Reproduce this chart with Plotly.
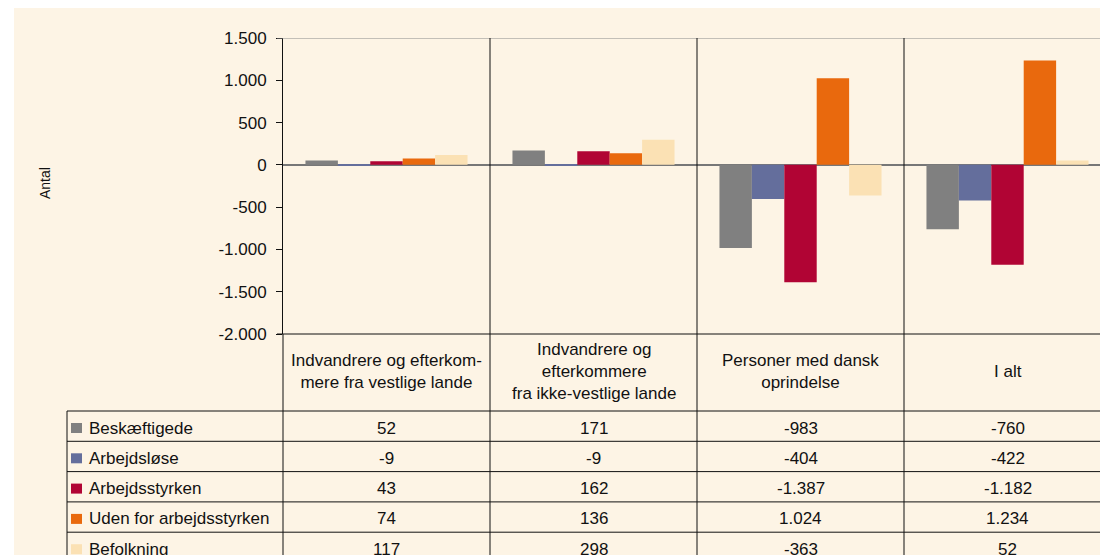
import plotly.graph_objects as go

# ------------------- Data -------------------
categories = [
    "Indvandrere og efterkom-<br>mere fra vestlige lande",
    "Indvandrere og<br>efterkommere<br>fra ikke-vestlige lande",
    "Personer med dansk<br>oprindelse",
    "I alt",
]
series_names = ["Beskæftigede", "Arbejdsløse", "Arbejdsstyrken",
                "Uden for arbejdsstyrken", "Befolkning"]
beskaeftigede = [52, 171, -983, -760]
arbejdsloese = [-9, -9, -404, -422]
arbejdsstyrken = [43, 162, -1387, -1182]
uden_for = [74, 136, 1024, 1234]
befolkning = [117, 298, -363, 52]
series_values = [beskaeftigede, arbejdsloese, arbejdsstyrken, uden_for, befolkning]
y_ticks = [1500, 1000, 500, 0, -500, -1000, -1500, -2000]

colors = ["#808080", "#646E9C", "#B10434", "#E9690D", "#FBE1B4"]
bg = "#FDF4E5"
ink = "#111111"
FONT = "Liberation Sans, Arial, sans-serif"
FS = 17

# geometry in screenshot pixels; the page body adds an 8px margin
OFF = 8
SW, SH = 1108, 555
L, T, B = 283, 38, 334
W, H = SW - OFF, SH - OFF


def fmt(v):
    return f"{v:,}".replace(",", ".")


def px_x(p):
    return (p - L) / (SW - L)


def px_y(p):
    return (B - p) / (B - T)


x_idx = list(range(len(categories)))

fig = go.Figure()
for name, vals, col in zip(series_names, series_values, colors):
    fig.add_trace(go.Bar(x=x_idx, y=vals, name=name, marker_color=col,
                         marker_line_width=0, showlegend=False))

shapes = []
# white strip left of the cream page
shapes.append(dict(type="rect", xref="paper", yref="paper", x0=px_x(0), x1=px_x(14),
                   y0=px_y(SH + 20), y1=px_y(0), fillcolor="white", line_width=0, layer="below"))
# top gridline
shapes.append(dict(type="line", xref="paper", yref="y", x0=px_x(277), x1=1, y0=1500, y1=1500,
                   line=dict(color="#8a8a8a", width=1)))
# column separators through plot and table
for i in range(len(categories)):
    shapes.append(dict(type="line", xref="x", yref="paper", x0=i + 0.5, x1=i + 0.5,
                       y0=px_y(SH + 10), y1=1, line=dict(color=ink, width=1)))
shapes.append(dict(type="line", xref="paper", yref="paper", x0=0, x1=0,
                   y0=px_y(SH + 10), y1=0, line=dict(color=ink, width=1)))
# table lines
shapes.append(dict(type="line", xref="paper", yref="paper", x0=px_x(277), x1=1, y0=0, y1=0,
                   line=dict(color=ink, width=1)))
row_tops = [411, 441.3, 471.6, 501.9, 532.2]
for r in row_tops:
    shapes.append(dict(type="line", xref="paper", yref="paper", x0=px_x(67), x1=1,
                       y0=px_y(r), y1=px_y(r), line=dict(color=ink, width=1)))
shapes.append(dict(type="line", xref="paper", yref="paper", x0=px_x(67), x1=px_x(67),
                   y0=px_y(SH + 10), y1=px_y(411), line=dict(color=ink, width=1)))

annotations = []
# category header
for i, cat in enumerate(categories):
    annotations.append(dict(x=i, xref="x", y=px_y(371), yref="paper", text=cat,
                            showarrow=False, xanchor="center", yanchor="middle",
                            font=dict(size=FS, color=ink)))
# table rows
for r, name, vals, col in zip(row_tops, series_names, series_values, colors):
    cy = r + 17
    shapes.append(dict(type="rect", xref="paper", yref="paper", x0=px_x(71), x1=px_x(82),
                       y0=px_y(cy + 5), y1=px_y(cy - 5), fillcolor=col, line_width=0))
    annotations.append(dict(x=px_x(87), xref="paper", y=px_y(cy), yref="paper", text=name,
                            showarrow=False, xanchor="left", yanchor="middle",
                            font=dict(size=FS, color=ink)))
    for i, v in enumerate(vals):
        annotations.append(dict(x=i, xref="x", y=px_y(cy), yref="paper", text=fmt(v),
                                showarrow=False, xanchor="center", yanchor="middle",
                                font=dict(size=FS, color=ink)))
# y-axis title
annotations.append(dict(x=px_x(45), xref="paper", y=px_y(183), yref="paper", text="Antal",
                        textangle=-90, showarrow=False, xanchor="center", yanchor="middle",
                        font=dict(size=14, color=ink)))

fig.update_layout(
    width=W, height=H,
    margin=dict(l=L - OFF, r=0, t=T - OFF, b=H - (B - OFF), pad=0),
    paper_bgcolor=bg, plot_bgcolor=bg,
    font=dict(family=FONT, color=ink),
    barmode="group", bargap=0.217, bargroupgap=0,
    separators=",.",
    shapes=shapes, annotations=annotations,
)
fig.update_xaxes(range=[-0.5, -0.5 + (SW - L) / 207], showticklabels=False, showgrid=False,
                 zeroline=False, showline=False, fixedrange=True)
fig.update_yaxes(range=[-2000, 1500], tickvals=y_ticks, ticktext=[fmt(v) for v in y_ticks],
                 showgrid=False, zeroline=True, zerolinecolor="#777777", zerolinewidth=1.5,
                 showline=True, linecolor=ink, linewidth=1, ticks="outside", ticklen=6,
                 tickcolor=ink, ticklabelstandoff=6, tickfont=dict(size=FS, color=ink),
                 fixedrange=True)

fig.write_html("out.html")
